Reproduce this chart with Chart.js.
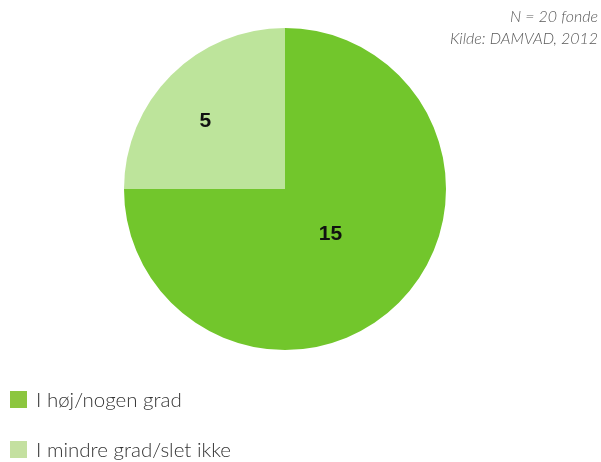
<!DOCTYPE html>
<html>
<head>
<meta charset="utf-8">
<script src="https://cdn.jsdelivr.net/npm/chart.js@4"></script>
<style>
  html, body { margin: 0; padding: 0; background: #fff; }
  #wrap { width: 601px; height: 462px; position: relative; }
</style>
</head>
<body>
<div id="wrap"><canvas id="myChart"></canvas></div>
<script>
const labels = ["I høj/nogen grad", "I mindre grad/slet ikke"];
const values = [15, 5];
const sliceColors = ["#72c62c", "#bde49b"];
const legendColors = ["#8cc63f", "#c4e0a0"];
const noteLines = ["N = 20 fonde", "Kilde: DAMVAD, 2012"];

// where the value sits along the radius, per slice (and a small angle nudge)
const labelDist = [0.4, 0.65];
const labelTurn = [0, -0.08];

const extras = {
  id: "extras",
  afterDraw(chart) {
    const ctx = chart.ctx;
    const meta = chart.getDatasetMeta(0);
    ctx.save();
    // values inside slices
    ctx.fillStyle = "#111";
    ctx.font = "bold 21px 'Liberation Sans', Arial, sans-serif";
    ctx.textAlign = "center";
    ctx.textBaseline = "middle";
    meta.data.forEach((arc, i) => {
      const p = arc.getProps(["x", "y", "startAngle", "endAngle", "outerRadius"], true);
      const a = (p.startAngle + p.endAngle) / 2 + labelTurn[i];
      const r = p.outerRadius * labelDist[i];
      ctx.fillText(values[i], p.x + Math.cos(a) * r, p.y + Math.sin(a) * r);
    });

    // legend
    ctx.textAlign = "left";
    ctx.font = "300 20.5px Lato, 'Open Sans', sans-serif";
    labels.forEach((l, i) => {
      const y = 391 + i * 50;
      ctx.fillStyle = legendColors[i];
      ctx.fillRect(10, y, 17, 17);
      ctx.fillStyle = "#333";
      ctx.fillText(l, 36, y + 9);
    });

    // source note
    ctx.textAlign = "right";
    ctx.fillStyle = "#5a5a5a";
    ctx.font = "italic 300 16px Lato, 'Open Sans', sans-serif";
    noteLines.forEach((t, i) => {
      ctx.fillText(t, 598, 17 + i * 22);
    });
    ctx.restore();
  }
};

const ctx = document.getElementById("myChart").getContext("2d");
const myChart = new Chart(ctx, {
  type: "pie",
  data: {
    labels: labels,
    datasets: [{
      data: values,
      backgroundColor: sliceColors,
      borderWidth: 0
    }]
  },
  options: {
    responsive: true,
    maintainAspectRatio: false,
    animation: false,
    layout: { padding: { left: 124, right: 155, top: 28, bottom: 112 } },
    plugins: {
      legend: { display: false },
      tooltip: { enabled: false }
    }
  },
  plugins: [extras]
});
</script>
</body>
</html>
